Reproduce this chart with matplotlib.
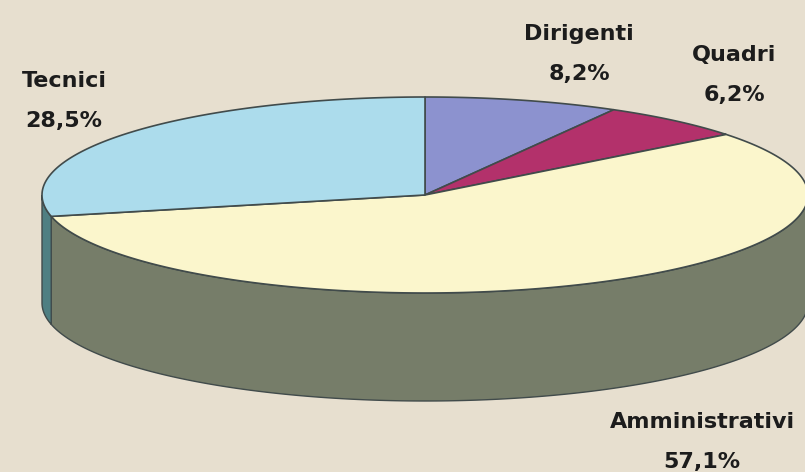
import numpy as np
import matplotlib.pyplot as plt
from matplotlib.patches import Polygon

# data: clockwise from 12 o'clock
labels = ['Dirigenti', 'Quadri', 'Amministrativi', 'Tecnici']
values = [8.2, 6.2, 57.1, 28.5]
top_colors = ['#8c92cf', '#b3316b', '#fbf6cc', '#acdcec']
side_colors = ['#5e6390', '#7a2249', '#767d69', '#4f7f82']

# label centre x and baseline of the first line (pixels)
label_pos = [(579, 40), (734, 61), (702, 428), (64, 87)]
line_gap = 40

bg = '#e7dfcf'
edge = '#414b4b'
cx, cy, rx, ry, depth = 425, 195, 383, 98, 108


def ell(t_deg, dy=0.0):
    t = np.radians(t_deg)
    return np.column_stack([cx + rx * np.cos(t), cy - ry * np.sin(t) + dy])


fig = plt.figure(figsize=(8.05, 4.72), dpi=100, facecolor=bg)
ax = fig.add_axes([0, 0, 1, 1])
ax.set_facecolor(bg)
ax.set_xlim(0, 805)
ax.set_ylim(472, 0)
ax.axis('off')

start = 90.0
spans = []
for v in values:
    end = start - v * 3.6
    spans.append((start, end))
    start = end

# side walls (front half of the cake only)
for (s, e), col in zip(spans, side_colors):
    for k in (0, -360, 360):
        lo = max(e, -180 + k)
        hi = min(s, k)
        if hi <= lo:
            continue
        ts = np.linspace(lo, hi, 200)
        pts = np.vstack([ell(ts), ell(ts[::-1], depth)])
        ax.add_patch(Polygon(pts, closed=True, facecolor=col, edgecolor=edge,
                             linewidth=1.0, zorder=1))

# top faces
for (s, e), col in zip(spans, top_colors):
    ts = np.linspace(s, e, 300)
    pts = np.vstack([[cx, cy], ell(ts)])
    ax.add_patch(Polygon(pts, closed=True, facecolor=col, edgecolor=edge,
                         linewidth=1.2, joinstyle='round', zorder=2))

for lab, v, (x, y) in zip(labels, values, label_pos):
    pct = f'{v:.1f}'.replace('.', ',') + '%'
    for i, line in enumerate([lab, pct]):
        ax.text(x, y + i * line_gap, line, ha='center', va='baseline',
                fontsize=16, fontweight='bold', color='#1c1c1c')

fig.savefig('out.png', dpi=100, facecolor=bg)
